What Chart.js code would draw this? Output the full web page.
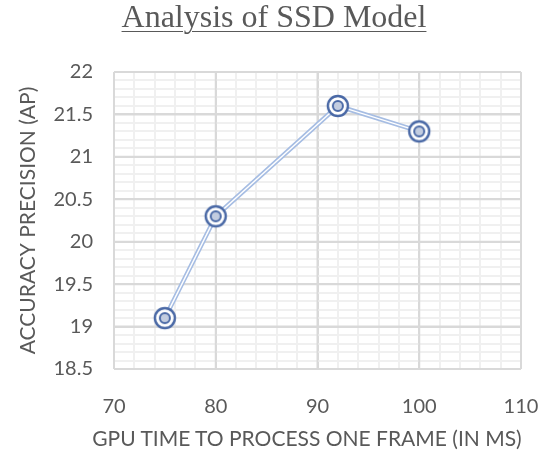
<!DOCTYPE html>
<html>
<head>
<meta charset="utf-8">
<script src="https://cdn.jsdelivr.net/npm/chart.js@4.4.0/dist/chart.umd.min.js"></script>
<style>
  html, body { margin: 0; padding: 0; background: #fff; }
  #wrap { position: relative; width: 548px; height: 454px; }
  #title {
    position: absolute; left: 0; top: -2px; width: 548px; text-align: center;
    font-family: "Liberation Serif", "DejaVu Serif", serif; font-size: 32px;
    color: #595959; text-decoration: underline; text-underline-offset: 4px;
    text-decoration-thickness: 1px;
  }
  #xtitle {
    position: absolute; left: 57px; top: 425px; width: 500px; text-align: center;
    font-family: Lato, "Open Sans", sans-serif; font-size: 21px; color: #595959;
  }
</style>
</head>
<body>
<div id="wrap">
  <div id="title">Analysis of SSD Model</div>
  <canvas id="chart" width="548" height="454"></canvas>
  <div id="xtitle"></div>
</div>
<script>
// values
var gpuTime = [75, 80, 92, 100] ;
var precision = [19.1, 20.3, 21.6, 21.3] ;
var xTitle = "GPU TIME TO PROCESS ONE FRAME (IN MS)" ;
var yTitle = "ACCURACY PRECISION (AP)" ;

document.getElementById('xtitle').textContent = xTitle ;

var points = gpuTime.map(function(x, i) { return { x: x, y: precision[i] } ; }) ;

// double circle marker
function makeMarker() {
  var c = document.createElement('canvas') ;
  c.width = 26 ; c.height = 26 ;
  var g = c.getContext('2d') ;
  g.strokeStyle = '#4a69a6' ;
  g.lineWidth = 2.4 ;
  g.beginPath() ; g.arc(13, 13, 10, 0, Math.PI * 2) ; g.fillStyle = '#fff' ; g.fill() ; g.stroke() ;
  g.lineWidth = 2 ;
  g.beginPath() ; g.arc(13, 13, 5, 0, Math.PI * 2) ; g.fillStyle = '#c3cde0' ; g.fill() ; g.stroke() ;
  return c ;
}
var marker = makeMarker() ;

function isMajor(v, step) {
  var r = v / step ;
  return Math.abs(r - Math.round(r)) < 1e-6 ;
}

// restroke the major grid lines so the minor ones never cut them
var majorGrid = {
  id: 'majorGrid',
  beforeDatasetsDraw: function(chart) {
    var ctx = chart.ctx, a = chart.chartArea ;
    ctx.save() ;
    ctx.strokeStyle = '#d9d9d9' ;
    ctx.lineWidth = 2 ;
    chart.scales.x.ticks.forEach(function(t) {
      if (!isMajor(t.value, 10)) return ;
      var px = chart.scales.x.getPixelForValue(t.value) ;
      ctx.beginPath() ; ctx.moveTo(px, a.top) ; ctx.lineTo(px, a.bottom) ; ctx.stroke() ;
    }) ;
    chart.scales.y.ticks.forEach(function(t) {
      if (!isMajor(t.value, 0.5)) return ;
      var py = chart.scales.y.getPixelForValue(t.value) ;
      ctx.beginPath() ; ctx.moveTo(a.left, py) ; ctx.lineTo(a.right, py) ; ctx.stroke() ;
    }) ;
    ctx.restore() ;
  }
} ;

var tickFont = { family: "Lato, 'Open Sans', sans-serif", size: 20 } ;
var titleFont = { family: "Lato, 'Open Sans', sans-serif", size: 21 } ;

new Chart(document.getElementById('chart').getContext('2d'), {
  type: 'scatter',
  plugins: [majorGrid],
  data: {
    datasets: [{
      // markers on top
      data: points,
      showLine: false,
      pointStyle: marker,
      pointRadius: 13,
      pointHoverRadius: 13,
      order: 1
    }, {
      // white centre of the double line
      data: points,
      showLine: true,
      borderColor: '#ffffff',
      borderWidth: 1.4,
      pointRadius: 0,
      order: 2
    }, {
      data: points,
      showLine: true,
      borderColor: '#a6bde3',
      borderWidth: 4.6,
      pointRadius: 0,
      order: 3
    }]
  },
  options: {
    responsive: false,
    animation: false,
    layout: { padding: { left: 16, right: 27, top: 72, bottom: 0 } },
    plugins: { legend: { display: false }, tooltip: { enabled: false } },
    scales: {
      x: {
        type: 'linear', min: 70, max: 110,
        afterFit: function(s) { s.height = 85 ; s.paddingRight = 0 ; s.paddingLeft = 0 ; },
        ticks: {
          stepSize: 2, autoSkip: false, maxRotation: 0, color: '#595959', font: tickFont, padding: 26,
          callback: function(v) { return isMajor(v, 10) ? String(v) : '' ; }
        },
        grid: {
          color: function(ctx) { return isMajor(ctx.tick.value, 10) ? '#d9d9d9' : '#f0f0f0' ; },
          lineWidth: 2,
          drawTicks: false
        },
        border: { display: false }
      },
      y: {
        type: 'linear', min: 18.5, max: 22,
        afterFit: function(s) { s.width = 98 ; s.paddingTop = 0 ; s.paddingBottom = 0 ; },
        ticks: {
          stepSize: 0.1, autoSkip: false, color: '#595959', font: tickFont, padding: 21,
          callback: function(v) { return isMajor(v, 0.5) ? String(Math.round(v * 10) / 10) : '' ; }
        },
        grid: {
          color: function(ctx) { return isMajor(ctx.tick.value, 0.5) ? '#d9d9d9' : '#f0f0f0' ; },
          lineWidth: 2,
          drawTicks: false
        },
        border: { display: false },
        title: { display: true, text: yTitle, color: '#595959', font: titleFont, padding: 0 }
      }
    }
  }
}) ;
</script>
</body>
</html>
